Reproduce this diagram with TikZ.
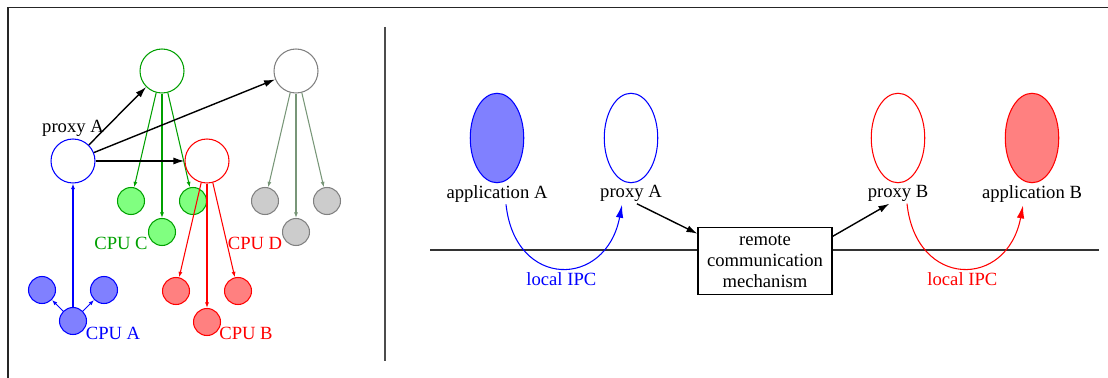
\documentclass[tikz,border=0pt]{standalone}
\usepackage{fontspec}
\setmainfont{Liberation Serif}
\usetikzlibrary{arrows.meta,positioning,calc,shapes.geometric}
\definecolor{cpugreen}{RGB}{0,160,0}
\definecolor{linkgray}{RGB}{120,150,120}

\begin{document}
\begin{tikzpicture}[
    x=0.02cm, y=-0.02cm,
    every node/.style={font=\fontsize{10.6}{12}\selectfont},
    bignode/.style={draw, circle, minimum size=0.88cm, inner sep=0pt, fill=white, line width=0.6pt},
    cpunode/.style={draw, circle, minimum size=0.54cm, inner sep=0pt, line width=0.6pt},
    appnode/.style={draw, ellipse, minimum width=1.07cm, minimum height=1.79cm, inner sep=0pt, line width=0.6pt},
    lbl/.style={inner sep=1pt},
    call/.style={-{Latex[length=2.2mm, width=1.4mm]}, line width=0.8pt},
    sub/.style={-{Latex[length=1.1mm, width=0.8mm]}, line width=0.6pt},
    ipc/.style={-{Latex[length=2.6mm, width=1.5mm]}, line width=0.6pt},
]
  \useasboundingbox (0,0) rectangle (1108,378);
  \draw[line width=0.6pt, black!85] (8,378) -- (8,7.5) -- (1108,7.5);
  \draw[line width=0.6pt, black!70] (385,27) -- (385,361);

  % proxy A and the three remote processes
  \node[bignode, draw=blue] (pA) at (73,161) {};
  \node[lbl, above=0pt of pA] {proxy A};
  \node[bignode, draw=cpugreen] (g) at (162,71) {};
  \node[bignode, draw=gray] (k) at (296,71) {};

  % CPU C (green)
  \node[cpunode, cpugreen, fill=green!50] (g1) at ($(g)+(-31,130)$) {};
  \node[cpunode, cpugreen, fill=green!50] (g2) at ($(g)+(0,161)$) {};
  \node[cpunode, cpugreen, fill=green!50] (g3) at ($(g)+(31,130)$) {};
  \draw[sub, cpugreen] (g.-105) -- (g1);
  \draw[sub, cpugreen] (g.south) -- (g2);
  \draw[sub, cpugreen] (g.-75) -- (g3);
  \node[text=cpugreen] at (121,243) {CPU C};

  % gray group
  \node[cpunode, gray, fill=gray!40] (k1) at ($(k)+(-31,130)$) {};
  \node[cpunode, gray, fill=gray!40] (k2) at ($(k)+(0,161)$) {};
  \node[cpunode, gray, fill=gray!40] (k3) at ($(k)+(31,130)$) {};
  \draw[sub, linkgray] (k.-105) -- (k1);
  \draw[sub, linkgray] (k.south) -- (k2);
  \draw[sub, linkgray] (k.-75) -- (k3);

  % CPU D / CPU B (red)
  \node[bignode, draw=red] (r) at (207,161) {};
  \node[cpunode, red, fill=red!50] (r1) at ($(r)+(-31,130)$) {};
  \node[cpunode, red, fill=red!50] (r2) at ($(r)+(0,161)$) {};
  \node[cpunode, red, fill=red!50] (r3) at ($(r)+(31,130)$) {};
  \draw[sub, red] (r.-105) -- (r1);
  \draw[sub, red] (r.south) -- (r2);
  \draw[sub, red] (r.-75) -- (r3);
  \node[text=red] at (255,243) {CPU D};
  \node[text=red] at (246,333) {CPU B};

  % CPU A (blue)
  \node[cpunode, blue, fill=blue!50] (b0) at (73,321) {};
  \node[cpunode, blue, fill=blue!50] (b1) at (42,290) {};
  \node[cpunode, blue, fill=blue!50] (b2) at (104,290) {};
  \draw[sub, blue] (b0) -- (b1);
  \draw[sub, blue] (b0) -- (b2);
  \draw[sub, blue] (b0) -- (pA);
  \node[text=blue] at (113,333) {CPU A};

  % proxy A forwards the calls
  \draw[call] (pA) -- (g);
  \draw[call] (pA) -- (k);
  \draw[call] (pA) -- (r);

  % host A / host B with the remote link
  \node[appnode, blue, fill=blue!50] (appA) at (497,138) {};
  \node[appnode, blue] (prA) at (631,138) {};
  \node[appnode, red] (prB) at (898,138) {};
  \node[appnode, red, fill=red!50] (appB) at (1032,138) {};
  \node[lbl, below=0pt of appA] (appAlab) {application A};
  \node[lbl, below=0pt of prA] (prAlab) {proxy A};
  \node[lbl, below=0pt of prB] (prBlab) {proxy B};
  \node[lbl, below=0pt of appB] (appBlab) {application B};

  \node[draw, align=center, minimum width=2.68cm, minimum height=1.34cm, inner sep=0pt, line width=0.6pt] (rcm) at (765,261) {remote\\communication\\mechanism};
  \coordinate (netL) at (430,250);
  \coordinate (netR) at (1099,250);
  \draw[line width=0.6pt, black!80] (netL) -- (netL -| rcm.west);
  \draw[line width=0.6pt, black!80] (netR) -- (netR -| rcm.east);

  \draw[call] (prAlab.-60) -- (rcm.158);
  \draw[call] (rcm.20) -- (prBlab.-130);

  % local IPC on both sides
  \draw[ipc, blue] ($(appAlab.south)+(9,0)$) .. controls +(9,85) and +(-16,84) .. ($(prAlab.south)+(-9,1)$)
    node[pos=0.5, below, inner sep=2.5pt, text=blue] {local IPC};
  \draw[ipc, red] ($(prBlab.south)+(9,0)$) .. controls +(9,85) and +(-16,84) .. ($(appBlab.south)+(-9,1)$)
    node[pos=0.5, below, inner sep=2.5pt, text=red] {local IPC};
\end{tikzpicture}
\end{document}
